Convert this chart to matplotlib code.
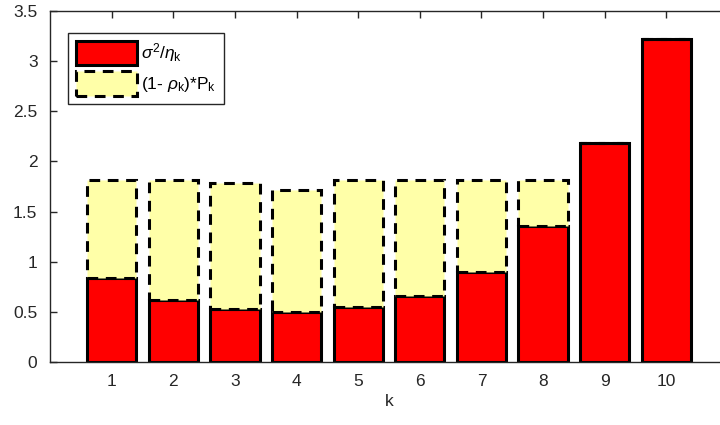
import numpy as np
import matplotlib
matplotlib.use('agg')
import matplotlib.pyplot as plt

plt.rcParams['font.family'] = ['Liberation Sans', 'DejaVu Sans']
plt.rcParams['mathtext.fontset'] = 'custom'
plt.rcParams['mathtext.rm'] = 'Liberation Sans'
plt.rcParams['mathtext.it'] = 'Liberation Sans:italic'

# per-user values
k = np.arange(1, 11)
noise_term = [0.835, 0.615, 0.525, 0.50, 0.545, 0.655, 0.895, 1.355, 2.185, 3.225]
total = [1.81, 1.81, 1.785, 1.715, 1.81, 1.81, 1.81, 1.81, 2.185, 3.225]
power_term = [max(t - n, 0.0) for t, n in zip(total, noise_term)]

axis_col = '#262626'
fs = 12.5

fig = plt.figure(figsize=(7.2, 4.25), dpi=100)
ax = fig.add_axes([50 / 720, 63 / 425, 678 / 720, 351 / 425])

ax.bar(k, noise_term, width=0.8, color='#ff0000', edgecolor='black',
       linewidth=2.2, label=r'$\sigma^2/\eta_\mathrm{k}$', zorder=2)
ax.bar(k, power_term, width=0.8, bottom=noise_term, color='#ffffa8',
       edgecolor='black', linewidth=2.2, linestyle=(0, (3.5, 2.5)),
       label=r'(1- $\rho_\mathrm{k}$)*P$_\mathrm{k}$', zorder=3)

ax.set_xlim(0, 11)
ax.set_ylim(0, 3.5)
ax.set_xticks(k)
ax.set_yticks(np.arange(0, 3.51, 0.5))
ax.set_yticklabels(['0', '0.5', '1', '1.5', '2', '2.5', '3', '3.5'])
ax.set_xlabel('k', fontsize=fs, color=axis_col, labelpad=3)

ax.tick_params(direction='in', length=5, width=1.0, colors=axis_col,
               labelsize=fs, top=True, right=True)
ax.tick_params(axis='y', pad=9)
ax.tick_params(axis='x', pad=9)
for s in ax.spines.values():
    s.set_color(axis_col)
    s.set_linewidth(1.0)

leg = ax.legend(loc='upper left', bbox_to_anchor=(18 / 678, 1 - 22 / 351),
                borderaxespad=0, fontsize=fs, handlelength=3.5,
                handleheight=1.8, handletextpad=0.25, labelspacing=0.35,
                borderpad=0.45, fancybox=False, framealpha=1,
                edgecolor=axis_col)
leg.get_frame().set_linewidth(1.0)

fig.savefig('out.png', dpi=100)
